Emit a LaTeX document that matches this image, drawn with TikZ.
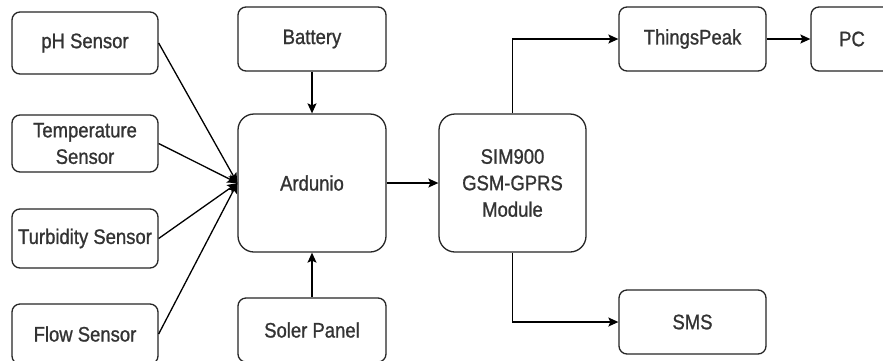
\documentclass[tikz,border=0pt]{standalone}
\usepackage{fontspec}
\setmainfont{Liberation Sans}[FakeStretch=0.88,FakeBold=1]
\usetikzlibrary{arrows.meta}
\begin{document}
\begin{tikzpicture}[x=1pt,y=-1pt,
  box/.style={draw=black!85,line width=1.3pt,rounded corners=8pt,fill=white,
    align=center,inner sep=0pt,text=black!80,
    font=\fontsize{21}{26.5}\selectfont},
  bigbox/.style={box,rounded corners=16pt},
  arr/.style={line width=1.3pt,draw=black,-{Stealth[length=10pt,width=9pt,inset=2pt]}}]
\useasboundingbox (0,0) rectangle (883,360);
\fill[white] (0,0) rectangle (883,360);
\node[box,minimum width=146,minimum height=62] (ph) at (85,43) {pH Sensor};
\node[box,minimum width=146,minimum height=57] (temp) at (85,143.5) {Temperature\\Sensor};
\node[box,minimum width=146,minimum height=59] (turb) at (85,238.5) {Turbidity Sensor};
\node[box,minimum width=146,minimum height=60] (flow) at (85,334) {Flow Sensor};
\node[box,minimum width=148,minimum height=64] (bat) at (312,39) {Battery};
\node[bigbox,minimum width=148,minimum height=138] (ard) at (312,183) {Ardunio};
\node[box,minimum width=148,minimum height=64] (sol) at (312,330) {Soler Panel};
\node[bigbox,minimum width=147,minimum height=138] (sim) at (512.5,183) {SIM900\\GSM-GPRS\\Module};
\node[box,minimum width=147,minimum height=64] (tp) at (692.5,39) {ThingsPeak};
\node[box,minimum width=82,minimum height=64] (pc) at (852,39) {PC};
\node[box,minimum width=147,minimum height=64] (sms) at (692.5,322) {SMS};
\draw[arr] (ph.east) -- (ard.west);
\draw[arr] (temp.east) -- (ard.west);
\draw[arr] (turb.east) -- (ard.west);
\draw[arr] (flow.east) -- (ard.west);
\draw[arr] (bat.south) -- (ard.north);
\draw[arr] (sol.north) -- (ard.south);
\draw[arr] (ard.east) -- (sim.west);
\draw[arr] (sim.north) |- (tp.west);
\draw[arr] (sim.south) |- (sms.west);
\draw[arr] (tp.east) -- (pc.west);
\end{tikzpicture}
\end{document}
